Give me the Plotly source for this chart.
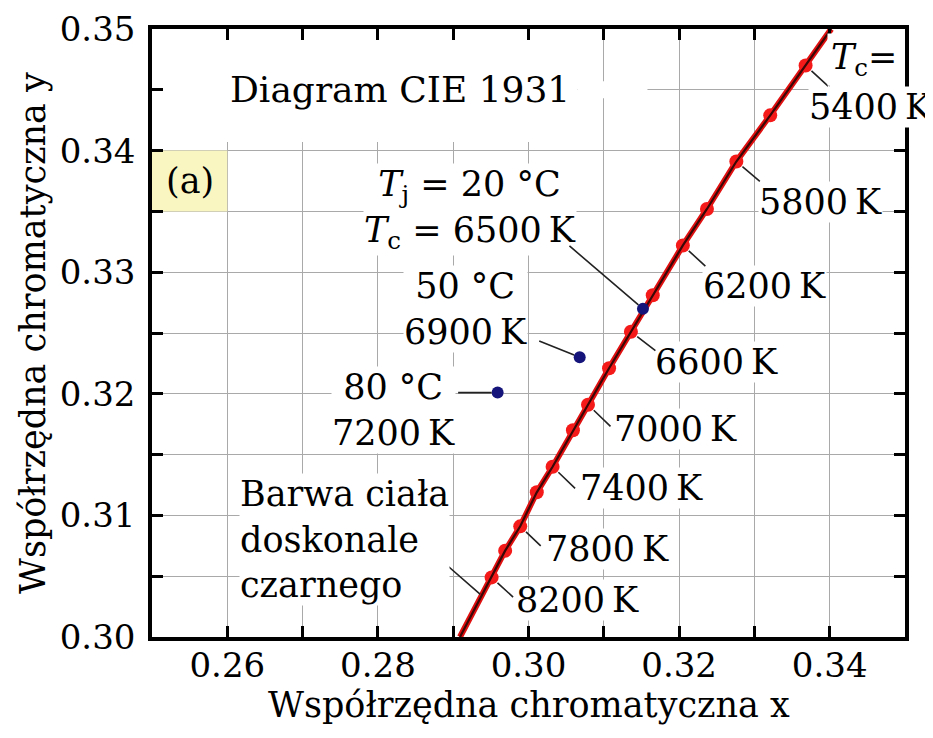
import plotly.graph_objects as go

# ---------------- data ----------------
# Planckian locus markers (every 200 K)
locus_T = [5400, 5600, 5800, 6000, 6200, 6400, 6600, 6800, 7000, 7200, 7400, 7600, 7800, 8000, 8200]
locus_x = [0.3368, 0.3321, 0.3276, 0.3237, 0.3205, 0.3165, 0.3136, 0.3107, 0.3079, 0.3059,
           0.3032, 0.3011, 0.2989, 0.2969, 0.2951]
locus_y = [0.3470, 0.3429, 0.3391, 0.3352, 0.3322, 0.3281, 0.3251, 0.3221, 0.3191, 0.3170,
           0.3140, 0.3119, 0.3091, 0.3071, 0.3049]
# ends of the drawn locus curve (where it leaves the plot)
locus_end_low = (0.2909, 0.300)
locus_end_high = (0.3402, 0.350)

# LED chromaticity at junction temperatures
led_Tj = [20, 50, 80]
led_cct = [6500, 6900, 7200]
led_x = [0.3152, 0.3068, 0.2959]
led_y = [0.3270, 0.3230, 0.3201]

labeled_T = [5400, 5800, 6200, 6600, 7000, 7400, 7800, 8200]

x_ticks = [0.25, 0.26, 0.27, 0.28, 0.29, 0.30, 0.31, 0.32, 0.33, 0.34, 0.35]
x_ticktext = ["", "0.26", "", "0.28", "", "0.30", "", "0.32", "", "0.34", ""]
y_ticks = [0.300, 0.305, 0.310, 0.315, 0.320, 0.325, 0.330, 0.335, 0.340, 0.345, 0.350]
y_ticktext = ["0.30", "", "0.31", "", "0.32", "", "0.33", "", "0.34", "", "0.35"]

FONT = "DejaVu Serif"
FS_TICK = 34
FS = 35
THIN = "\u2009"

fig = go.Figure()

line_x = [locus_end_low[0]] + locus_x[::-1] + [locus_end_high[0]]
line_y = [locus_end_low[1]] + locus_y[::-1] + [locus_end_high[1]]

fig.add_trace(go.Scatter(x=line_x, y=line_y, mode="lines",
                         line=dict(color="#e01010", width=6), hoverinfo="skip"))
fig.add_trace(go.Scatter(x=locus_x, y=locus_y, mode="markers",
                         marker=dict(color="#f41a1a", size=14), hoverinfo="skip"))
fig.add_trace(go.Scatter(x=line_x, y=line_y, mode="lines",
                         line=dict(color="#3a0606", width=2.2), hoverinfo="skip"))
fig.add_trace(go.Scatter(x=led_x, y=led_y, mode="markers",
                         marker=dict(color="#14147a", size=12), hoverinfo="skip"))

font = dict(family=FONT, size=FS, color="black")


def leader(x, y, ax, ay, standoff):
    fig.add_annotation(x=x, y=y, xref="x", yref="y", text="", showarrow=True,
                       arrowhead=0, arrowwidth=1.6, arrowcolor="#222222",
                       ax=ax, ay=ay, axref="pixel", ayref="pixel", standoff=standoff)


def label(x, y, text, dx, dy, align="center", bg="white"):
    fig.add_annotation(x=x, y=y, xref="x", yref="y", text=text, showarrow=False,
                       xshift=dx, yshift=-dy, font=font, align=align,
                       bgcolor=bg, borderpad=0)


# locus temperature labels: (leader dx, leader dy, text dx, text dy) in pixels
locus_label_layout = {
    5400: (24, 22, 65, 42),
    5800: (25, 21, 84, 40),
    6200: (24, 22, 82, 41),
    6600: (26, 20, 86, 30),
    7000: (24, 23, 88, 24),
    7400: (24, 23, 89, 21),
    7800: (22, 21, 87, 23),
    8200: (23, 21, 86, 23),
}
for T in labeled_T:
    i = locus_T.index(T)
    lx, ly, tx, ty = locus_label_layout[T]
    label(locus_x[i], locus_y[i], f"{T}{THIN}K", tx, ty)
    leader(locus_x[i], locus_y[i], lx, ly, 8)

# LED labels
led_texts = [
    f"<i>T</i><sub>j</sub> = {led_Tj[0]} °C<br><i>T</i><sub>c</sub> = {led_cct[0]}{THIN}K",
    f"{led_Tj[1]} °C<br>{led_cct[1]}{THIN}K",
    f"{led_Tj[2]} °C<br>{led_cct[2]}{THIN}K",
]
led_layout = [(-75, -64, -173, -99), (-42, -17, -114, -48), (-41, 0, -104, 17)]
for i in range(3):
    lx, ly, tx, ty = led_layout[i]
    label(led_x[i], led_y[i], led_texts[i], tx, ty)
    leader(led_x[i], led_y[i], lx, ly, 6)

# T_c = header (top right)
fig.add_annotation(x=0.3446, y=0.3475, xref="x", yref="y", text="<i>T</i><sub>c</sub>=",
                   showarrow=False, font=font, bgcolor="white", borderpad=3)

# black body label
bb_x, bb_y = 0.2936, 0.3035
leader(bb_x, bb_y, -40, -35, 0)
label(bb_x, bb_y, "Barwa ciała<br>doskonale<br>czarnego", -136, -55, align="left")

# white region behind the title text and yellow panel tag
fig.add_shape(type="rect", xref="x", yref="y", x0=0.25, x1=0.3065, y0=0.3407, y1=0.35,
              fillcolor="white", line_width=0, layer="between")
fig.add_shape(type="rect", xref="x", yref="y", x0=0.3065, x1=0.3158, y0=0.3443, y1=0.3457,
              fillcolor="white", line_width=0, layer="between")
fig.add_shape(type="rect", xref="x", yref="y", x0=0.25, x1=0.26, y0=0.335, y1=0.34,
              fillcolor="#faf6c2", line_width=0, layer="between")
fig.add_annotation(x=0.255, y=0.3375, xref="x", yref="y", text="(a)", showarrow=False, font=font)
fig.add_annotation(x=0.2829, y=0.3450, xref="x", yref="y", text="Diagram CIE 1931",
                   showarrow=False, font=dict(family=FONT, size=36, color="black"))

# axis titles
fig.add_annotation(x=0.5, y=0, xref="paper", yref="paper", text="Współrzędna chromatyczna x",
                   showarrow=False, font=font, yanchor="top", yshift=-46)
fig.add_annotation(x=0, y=0.5, xref="paper", yref="paper", text="Współrzędna chromatyczna y",
                   showarrow=False, font=font, textangle=-90, xanchor="center", xshift=-119)

axis_common = dict(showline=True, linecolor="black", linewidth=3.5, mirror="ticks",
                   ticks="inside", ticklen=11, tickwidth=2.5, tickcolor="black",
                   showgrid=True, gridcolor="#a9a9a9", gridwidth=1, zeroline=False,
                   tickfont=dict(family=FONT, size=FS_TICK, color="black"))

fig.update_xaxes(range=[0.25, 0.35], tickmode="array", tickvals=x_ticks, ticktext=x_ticktext,
                 ticklabelstandoff=-5, **axis_common)
fig.update_yaxes(range=[0.30, 0.35], tickmode="array", tickvals=y_ticks, ticktext=y_ticktext,
                 ticklabelstandoff=6, **axis_common)

# page body adds an 8 px offset; margins compensate so the plot frame lands at
# x 152..905, y 29..637 in the browser window
fig.update_layout(width=933, height=738, showlegend=False,
                  margin=dict(l=144, r=36, t=21, b=109, autoexpand=False),
                  plot_bgcolor="white", paper_bgcolor="white")

fig.write_html("out.html")
